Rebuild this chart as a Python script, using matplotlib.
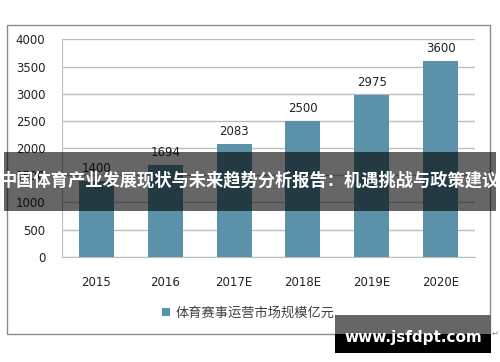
import matplotlib
matplotlib.use("Agg")
import matplotlib.pyplot as plt
from matplotlib.patches import Rectangle

plt.rcParams['font.family'] = ['Noto Sans CJK SC', 'DejaVu Sans']

# data
years = ["2015", "2016", "2017E", "2018E", "2019E", "2020E"]
market_size = [1400, 1694, 2083, 2500, 2975, 3600]
series_name = "体育赛事运营市场规模亿元"
title = "中国体育产业发展现状与未来趋势分析报告：机遇挑战与政策建议"
watermark = "www.jsfdpt.com"

bar_color = "#5b91a9"
grid_color = "#bdbdbd"

fig = plt.figure(figsize=(5, 3.62), dpi=100)
ax = fig.add_axes([0.124, 0.291, 0.826, 0.600])

x = range(len(years))
bars = ax.bar(x, market_size, width=0.51, color=bar_color, label=series_name, zorder=3)
for xi, v in zip(x, market_size):
    ax.text(xi, v + 110, str(v), ha='center', va='bottom', fontsize=8.5,
            family='DejaVu Sans', color='#222222', zorder=4)

ax.set_ylim(0, 4000)
ax.set_xlim(-0.5, len(years) - 0.5)
ax.set_yticks(range(0, 4001, 500))
ax.set_xticks(list(x))
ax.set_xticklabels(years)
ax.tick_params(axis='both', length=0, labelsize=8.5, colors='#222222')
ax.tick_params(axis='y', pad=12)
ax.tick_params(axis='x', pad=14)
for lab in ax.get_xticklabels() + ax.get_yticklabels():
    lab.set_family('DejaVu Sans')
ax.yaxis.grid(True, color=grid_color, linewidth=1, zorder=0)
ax.set_axisbelow(True)
for s in ['top', 'right']:
    ax.spines[s].set_visible(False)
for s in ['left', 'bottom']:
    ax.spines[s].set_color(grid_color)

leg = ax.legend(loc='center', bbox_to_anchor=(0.497, 0.135), bbox_transform=fig.transFigure,
                frameon=False, fontsize=9.5, handlelength=0.6, handleheight=0.6,
                handletextpad=0.4, labelcolor='#404040')

# outer chart frame
fig.add_artist(Rectangle((0.014, 0.077), 0.966, 0.854, transform=fig.transFigure,
                         fill=False, edgecolor='#8c8c8c', linewidth=1, zorder=1))
fig.text(0.99, 0.08, "↵", fontsize=6, color='#888888', ha='center', va='center',
         family='DejaVu Sans')

# title banner over the middle
fig.add_artist(Rectangle((0.008, 0.417), 0.984, 0.163, transform=fig.transFigure,
                         facecolor='black', alpha=0.6, edgecolor='none', zorder=10))
fig.text(0.5, 0.502, title, color='white', fontsize=12.4, fontweight='bold',
         ha='center', va='center', zorder=11)

# watermark box bottom right
fig.add_artist(Rectangle((0.670, 0.077), 0.312, 0.053, transform=fig.transFigure,
                         facecolor='#666666', edgecolor='none', zorder=10))
fig.add_artist(Rectangle((0.670, 0.025), 0.312, 0.053, transform=fig.transFigure,
                         facecolor='black', edgecolor='none', zorder=10))
fig.text(0.826, 0.069, watermark, color='white', fontsize=11, fontweight='bold',
         ha='center', va='center', family='DejaVu Sans', zorder=11)

fig.savefig("out.png", dpi=100)
